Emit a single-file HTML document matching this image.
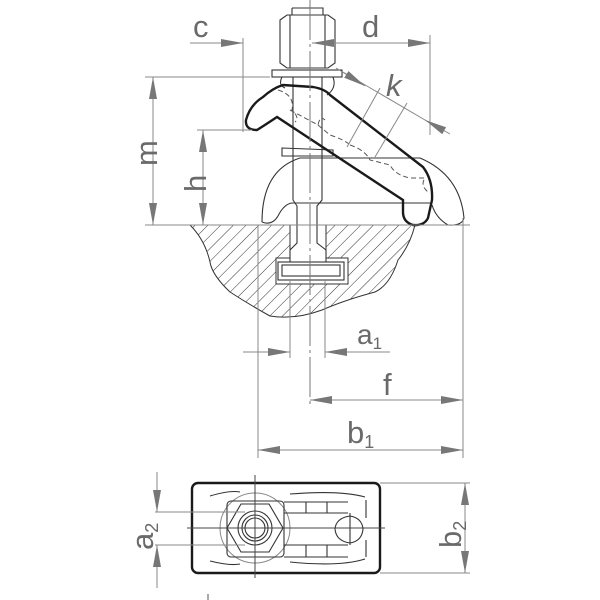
<!DOCTYPE html>
<html><head><meta charset="utf-8"><style>
html,body{margin:0;padding:0;background:#fff}
svg{display:block}
text{font-family:"Liberation Sans",sans-serif;fill:#6a6a6a}
</style></head><body>
<svg width="600" height="600" viewBox="0 0 600 600" xmlns="http://www.w3.org/2000/svg">
<defs>
<marker id="a" viewBox="0 0 22 8" refX="22" refY="4" markerWidth="22" markerHeight="8" markerUnits="userSpaceOnUse" orient="auto" preserveAspectRatio="none">
<path d="M0,0 L22,4 L0,8z" fill="#777"/></marker>
<pattern id="h" width="9" height="9" patternUnits="userSpaceOnUse" patternTransform="rotate(45)">
<line x1="0" y1="0" x2="0" y2="9" stroke="#333" stroke-width="1"/></pattern>
</defs>
<style>.t{stroke:#888;stroke-width:1;fill:none}.k{stroke:#1a1a1a;stroke-width:2.4;fill:none}.m{stroke:#333;stroke-width:1.1;fill:none}.d{stroke:#888;stroke-width:1;fill:none}</style>

<path d="M190,225 L290,225 L290,258 L276,258 L276,284 L348,284 L348,258 L326,258 L326,225 L415,225 Q410,245 398,260 Q390,285 375,292 Q345,300 322,310 Q295,320 270,316 Q250,305 230,292 Q212,275 210,262 Q205,240 190,225z" fill="url(#h)" stroke="#333" stroke-width="1"/>

<path class="m" d="M262,222 Q262,170 300,158 L420,158 Q460,175 464,218 Q462,226 448,225 Q436,218 432,205"/>
<path class="m" d="M278,216 Q284,204 292,203 L430,203"/>
<path class="m" d="M262,222 Q272,226 278,216"/>
<path class="m" d="M282,148 L333,150 L333,156 L282,156z"/>

<path class="m" d="M293,77 L293,200 L297,206 L297,243 L290,250 L290,262 M322,77 L322,200 L317,206 L317,243 L326,250 L326,262" fill="#fff"/>
<rect x="278" y="262" width="66" height="18" class="m" fill="#fff"/>
<rect x="282" y="265" width="58" height="11" class="m"/>
<path class="m" d="M280,20 L287,15 L328,15 L335,20 L335,63 L328,68 L287,68 L280,63z" fill="#fff"/>
<path class="m" d="M290,15 L290,68 M325,15 L325,68 M292,8 L323,8 L323,15 M292,8 L292,15"/>
<rect x="272" y="70" width="70" height="7" class="m" fill="#fff"/>
<path class="m" d="M282,77 Q278,85 285,88 M333,77 Q337,88 327,95"/>

<path class="k" fill="#fff" d="M330,95 L423,167 Q433,180 432,200 L428,218 Q424,226 413,225 Q403,222 403,212 L403,200 L277,117 Q265,125 257,130 Q245,130 246,120 Q250,105 263,97 Q273,88 283,85 L313,87 Q325,89 330,95z"/>
<path d="M278,90 Q295,95 292,110 Q300,118 295,122 M290,110 Q305,118 318,125 Q320,115 325,120 M318,125 L330,135 Q345,140 350,145 M350,145 Q365,150 370,160 L390,165 Q395,175 410,178 L425,178 Q420,185 428,192" stroke="#555" stroke-width="1" fill="none" stroke-dasharray="5,3"/>

<line x1="310" y1="0" x2="310" y2="405" stroke="#777" stroke-width="1" stroke-dasharray="40,4,3,4"/>

<line class="d" x1="190" y1="43" x2="243" y2="43" marker-end="url(#a)"/>
<line class="d" x1="243" y1="38" x2="243" y2="132"/>
<line class="d" x1="430" y1="43" x2="312" y2="43"/>
<line class="d" x1="350" y1="43" x2="312" y2="43" marker-end="url(#a)"/>
<line class="d" x1="380" y1="43" x2="430" y2="43" marker-end="url(#a)"/>
<line class="d" x1="430" y1="35" x2="430" y2="135"/>
<text x="193" y="37" font-size="31">c</text>
<text x="362" y="37" font-size="31">d</text>
<line class="d" x1="343" y1="72" x2="437" y2="127"/>
<line class="d" x1="336" y1="68" x2="365" y2="86" marker-end="url(#a)"/>
<line class="d" x1="450" y1="134" x2="425" y2="120" marker-end="url(#a)"/>
<line class="d" x1="347" y1="147" x2="380" y2="88"/>
<line class="d" x1="375" y1="157" x2="407" y2="103"/>
<text x="386" y="96" font-size="31" font-style="italic">k</text>
<line class="d" x1="145" y1="77" x2="270" y2="77"/>
<line class="d" x1="145" y1="225" x2="470" y2="225"/>
<line class="d" x1="153" y1="150" x2="153" y2="77" marker-end="url(#a)"/>
<line class="d" x1="153" y1="150" x2="153" y2="225" marker-end="url(#a)"/>
<line class="d" x1="197" y1="130" x2="252" y2="130"/>
<line class="d" x1="203" y1="175" x2="203" y2="130" marker-end="url(#a)"/>
<line class="d" x1="203" y1="175" x2="203" y2="225" marker-end="url(#a)"/>
<text transform="translate(157,166) rotate(-90)" font-size="31">m</text>
<text transform="translate(206,192) rotate(-90)" font-size="31">h</text>

<line class="d" x1="258" y1="225" x2="258" y2="458"/>
<line class="d" x1="463" y1="218" x2="463" y2="458"/>
<line class="d" x1="290" y1="280" x2="290" y2="358"/>
<line class="d" x1="325" y1="280" x2="325" y2="358"/>
<line class="d" x1="243" y1="352" x2="290" y2="352" marker-end="url(#a)"/>
<line class="d" x1="390" y1="352" x2="325" y2="352" marker-end="url(#a)"/>
<text x="357" y="344" font-size="28">a<tspan font-size="17" dy="5">1</tspan></text>
<line class="d" x1="390" y1="400" x2="310" y2="400" marker-end="url(#a)"/>
<line class="d" x1="390" y1="400" x2="463" y2="400" marker-end="url(#a)"/>
<text x="383" y="395" font-size="31">f</text>
<line class="d" x1="360" y1="450" x2="258" y2="450" marker-end="url(#a)"/>
<line class="d" x1="360" y1="450" x2="463" y2="450" marker-end="url(#a)"/>
<text x="347" y="443" font-size="31">b<tspan font-size="18" dy="5">1</tspan></text>

<rect x="192" y="483" width="188" height="90" rx="6" class="k" stroke-width="2.2"/>
<path class="m" d="M210,496 Q230,490 240,492 M210,561 Q230,566 240,564 M290,494 Q340,490 365,497 M290,562 Q340,567 365,559" stroke-width="1.8"/>
<path class="m" d="M366,500 L366,518 M366,540 L366,557" stroke-width="1.8"/>
<circle cx="255" cy="528" r="35" class="t"/>
<rect x="227" y="501" width="57" height="56" rx="4" class="m" stroke-width="1.8"/>
<polygon class="m" points="241,504 269,504 283,528 269,552 241,552 227,528" stroke-width="1.6"/>
<circle cx="255" cy="528" r="17" class="m" stroke-width="1.6"/>
<circle cx="255" cy="528" r="13" class="m"/>
<circle cx="255" cy="528" r="10" class="m"/>
<path class="m" d="M284,502 L348,502 M284,513 L348,513 M284,545 L348,545 M284,557 L348,557 M306,502 L306,513 M327,502 L327,513 M306,545 L306,557 M327,545 L327,557" stroke-width="1.6"/>
<path class="m" d="M350,516 Q336,518 335,529 Q336,541 350,543 Q362,541 363,529 Q362,518 350,516z M350,513 L350,545" stroke-width="1.4"/>
<line x1="187" y1="528" x2="385" y2="528" stroke="#444" stroke-width="1"/>
<line x1="255" y1="475" x2="255" y2="578" stroke="#444" stroke-width="1"/>
<line class="d" x1="155" y1="512" x2="245" y2="512"/>
<line class="d" x1="155" y1="545" x2="245" y2="545"/>
<line class="d" x1="157" y1="472" x2="157" y2="512" marker-end="url(#a)"/>
<line class="d" x1="157" y1="588" x2="157" y2="545" marker-end="url(#a)"/>
<text transform="translate(153,550) rotate(-90)" font-size="31">a<tspan font-size="18" dy="5">2</tspan></text>
<line class="d" x1="380" y1="483" x2="470" y2="483"/>
<line class="d" x1="380" y1="573" x2="470" y2="573"/>
<line class="d" x1="465" y1="528" x2="465" y2="483" marker-end="url(#a)"/>
<line class="d" x1="465" y1="528" x2="465" y2="573" marker-end="url(#a)"/>
<text transform="translate(461,548) rotate(-90)" font-size="31">b<tspan font-size="18" dy="5">2</tspan></text>
<line x1="208" y1="594" x2="208" y2="600" stroke="#555"/>
</svg>
</body></html>
